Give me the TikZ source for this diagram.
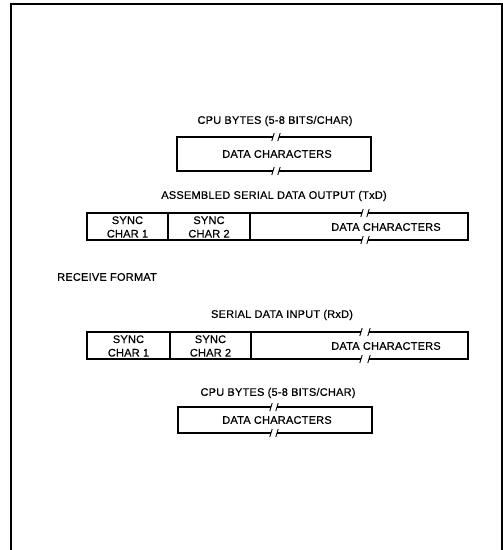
\documentclass[tikz,border=0pt]{standalone}
\usepackage{fontspec}
\setmainfont{Liberation Sans}
\newfontfamily\lblfont[FakeBold=0.6,LetterSpace=2]{Liberation Sans}
\newcommand\brkmark[2]{\draw[tick] ({#1-1.2},{#2+4}) -- ({#1+1.2},{#2-4});}
\begin{document}
\begin{tikzpicture}[x=1pt,y=-1pt,
  lbl/.style={font=\lblfont\fontsize{11}{12.5}\selectfont, inner sep=0pt, align=center},
  edge/.style={line width=1.3pt},
  tick/.style={line width=0.9pt},
  frame/.style={line width=1.6pt}]
\useasboundingbox (0,0) rectangle (503,550);
% frame
\draw[frame] (11,550) -- (11,4) -- (502,4) -- (502,550);

% top CPU bytes box
\node[lbl] (t1) at (275,121) {CPU BYTES (5-8 BITS/CHAR)};
\draw[edge] (273,137) -- (177,137) -- (177,171) -- (273,171);
\draw[edge] (279,137) -- (371,137) -- (371,171) -- (279,171);
\brkmark{273}{137}\brkmark{279}{137}\brkmark{273}{171}\brkmark{279}{171}
\node[lbl] (d1) at (277,154) {DATA CHARACTERS};

% assembled serial output
\node[lbl] (t2) at (274,196) {ASSEMBLED SERIAL DATA OUTPUT (TxD)};
\draw[edge] (362,213) -- (87,213) -- (87,240) -- (362,240);
\draw[edge] (368,213) -- (468,213) -- (468,240) -- (368,240);
\draw[edge] (168,213) -- (168,240);
\draw[edge] (250,213) -- (250,240);
\brkmark{362}{213}\brkmark{368}{213}\brkmark{362}{240}\brkmark{368}{240}
\node[lbl] (s1) at (127.5,227) {SYNC\\[1pt]CHAR 1};
\node[lbl] (s2) at (209,227) {SYNC\\[1pt]CHAR 2};
\node[lbl] (d2) at (386,227) {DATA CHARACTERS};

% receive format
\node[lbl, anchor=west] (rf) at (57,277) {RECEIVE FORMAT};

% serial input
\node[lbl] (t3) at (282,315) {SERIAL DATA INPUT (RxD)};
\draw[edge] (361,332) -- (87,332) -- (87,359) -- (361,359);
\draw[edge] (369,332) -- (468,332) -- (468,359) -- (369,359);
\draw[edge] (170,332) -- (170,359);
\draw[edge] (251,332) -- (251,359);
\brkmark{361}{332}\brkmark{369}{332}\brkmark{361}{359}\brkmark{369}{359}
\node[lbl] (s3) at (128.5,346) {SYNC\\[1pt]CHAR 1};
\node[lbl] (s4) at (210.5,346) {SYNC\\[1pt]CHAR 2};
\node[lbl] (d3) at (386,346) {DATA CHARACTERS};

% lower CPU bytes box
\node[lbl] (t4) at (278,393) {CPU BYTES (5-8 BITS/CHAR)};
\draw[edge] (271,407) -- (178,407) -- (178,433) -- (271,433);
\draw[edge] (277,407) -- (372,407) -- (372,433) -- (277,433);
\brkmark{271}{407}\brkmark{277}{407}\brkmark{271}{433}\brkmark{277}{433}
\node[lbl] (d4) at (277,420) {DATA CHARACTERS};
\end{tikzpicture}
\end{document}
